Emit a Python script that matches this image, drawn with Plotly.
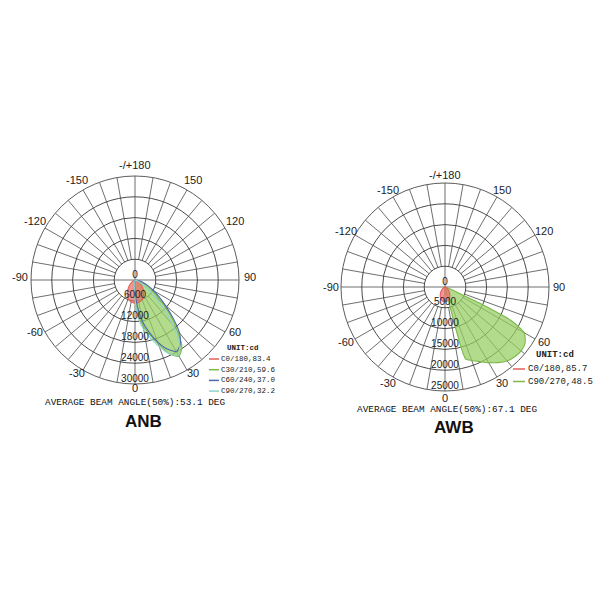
import math
import plotly.graph_objects as go

# ---------------- data ----------------
# ANB (left) intensity distribution, cd, gamma in degrees (0 = down, + = right)
anb_gamma = [-90, -80, -70, -60, -50, -40, -30, -20, -10, -5, 0, 5, 10, 15, 20, 25, 30, 35, 40, 45, 50, 55, 60, 65, 70, 80, 90]
anb_c0 = [0, 100, 300, 900, 1800, 3000, 4500, 5800, 6400, 6550, 6600, 6600, 6500, 6300, 6000, 5500, 5000, 4400, 3800, 3100, 2500, 1900, 1400, 1000, 600, 200, 0]
anb_c30 = [0, 0, 0, 0, 0, 100, 150, 200, 300, 800, 5000, 10000, 13500, 16300, 19500, 23500, 25400, 23600, 19000, 14500, 10500, 7200, 5000, 3500, 2500, 800, 0]
anb_c60 = [0, 0, 0, 0, 0, 100, 150, 200, 300, 800, 3000, 7500, 12000, 15500, 19000, 22000, 23800, 22800, 20000, 15500, 11500, 8500, 6200, 4500, 3000, 1000, 200]
anb_c90 = [0, 0, 0, 0, 0, 100, 150, 200, 300, 900, 5500, 11000, 14500, 17300, 20500, 23500, 25000, 22500, 17000, 11500, 7000, 4500, 2500, 1500, 800, 200, 0]

# AWB (right)
awb_gamma = [-90, -80, -70, -60, -50, -40, -30, -20, -10, 0, 10, 14, 16, 20, 25, 30, 35, 40, 45, 50, 55, 60, 63, 65, 67, 70, 80, 90]
awb_c0 = [0, 50, 150, 400, 900, 1600, 2300, 3000, 3400, 3500, 3400, 3300, 3200, 3000, 2700, 2300, 2000, 1600, 1250, 900, 650, 400, 300, 250, 200, 150, 50, 0]
awb_c90 = [0, 0, 0, 0, 0, 0, 50, 100, 150, 200, 400, 1500, 18000, 18800, 19800, 21000, 22200, 23200, 23700, 23900, 23500, 22000, 18000, 9000, 2500, 1000, 300, 100]

anb_names = ["C0/180,83.4", "C30/210,59.6", "C60/240,37.0", "C90/270,32.2"]
awb_names = ["C0/180,85.7", "C90/270,48.5"]

anb_rticks = [0, 6000, 12000, 18000, 24000, 30000]
awb_rticks = [0, 5000, 10000, 15000, 20000, 25000]

ang_tickvals = [0, 30, 60, 90, 120, 150, 180, 210, 240, 270, 300, 330]
ang_ticktext = ["0", "30", "60", "90", "120", "150", "-/+180", "-150", "-120", "-90", "-60", "-30"]

anb_beam = "AVERAGE BEAM ANGLE(50%):53.1 DEG"
awb_beam = "AVERAGE BEAM ANGLE(50%):67.1 DEG"

# ---------------- styles ----------------
GRID = "#4a4a4a"
RED_L, RED_F = "#e0605a", "rgba(238,105,100,0.70)"
GRN_L, GRN_F = "#7cb84a", "rgba(150,205,95,0.72)"
BLUE_L = "#4a6aae"
TEAL_L = "#8ed3cb"
W, H = 600, 600

annos = []
shapes = []


def px(x, y):
    return x / W, 1 - y / H


def closed(gamma, vals):
    th = [gamma[0]] + list(gamma) + [gamma[-1]]
    r = [0] + list(vals) + [0]
    return th, r


def spokes(rticks):
    th, r = [], []
    for a in range(0, 360, 10):
        r0 = 0 if a % 90 == 0 else rticks[1]
        th += [a, a, None]
        r += [r0, rticks[-1], None]
    return th, r


fig = go.Figure()


def add_polar(sub, rticks, series, cx, cy, rad, lab_rx, lab_ry, lab_dy):
    th, r = spokes(rticks)
    fig.add_trace(go.Scatterpolar(theta=th, r=r, mode="lines", subplot=sub,
                                  line=dict(color=GRID, width=0.8), hoverinfo="skip", showlegend=False))
    for gamma, vals, lc, fc, name in series:
        t, rr = closed(gamma, vals)
        fig.add_trace(go.Scatterpolar(theta=t, r=rr, mode="lines", subplot=sub, name=name,
                                      fill="toself" if fc else None, fillcolor=fc,
                                      line=dict(color=lc, width=1.1, shape="spline", smoothing=0.6),
                                      showlegend=False))
    fig.add_trace(go.Scatterpolar(theta=[0] * len(rticks), r=rticks, mode="text", subplot=sub,
                                  text=[str(v) for v in rticks], textposition="top center",
                                  textfont=dict(family="Liberation Sans", size=10, color="#222"),
                                  hoverinfo="skip", showlegend=False))
    fig.update_layout({sub: dict(
        domain=dict(x=[(cx - rad) / W, (cx + rad) / W], y=[1 - (cy + rad) / H, 1 - (cy - rad) / H]),
        bgcolor="white",
        angularaxis=dict(rotation=-90, direction="counterclockwise", showticklabels=False,
                         showgrid=False, showline=True, linecolor=GRID, linewidth=0.9, ticks=""),
        radialaxis=dict(range=[0, rticks[-1]], tickmode="array", tickvals=rticks[1:],
                        showticklabels=False, ticks="", showline=False,
                        gridcolor=GRID, gridwidth=0.8),
    )})
    # angular labels (gamma direction: 0 down, 90 right)
    for v, t in zip(ang_tickvals, ang_ticktext):
        a = math.radians(v)
        x = cx + lab_rx * math.sin(a)
        y = cy + lab_ry * math.cos(a) + lab_dy
        ax, ay = px(x, y)
        annos.append(dict(x=ax, y=ay, text=t, showarrow=False, xanchor="center", yanchor="middle",
                          font=dict(family="Liberation Sans", size=11, color="#222")))


add_polar("polar", anb_rticks, [
    (anb_gamma, anb_c30, GRN_L, GRN_F, anb_names[1]),
    (anb_gamma, anb_c0, RED_L, RED_F, anb_names[0]),
    (anb_gamma, anb_c60, BLUE_L, None, anb_names[2]),
    (anb_gamma, anb_c90, TEAL_L, None, anb_names[3]),
], 135, 280, 104, 115, 111.5, -3.5)

add_polar("polar2", awb_rticks, [
    (awb_gamma, awb_c90, GRN_L, GRN_F, awb_names[1]),
    (awb_gamma, awb_c0, RED_L, RED_F, awb_names[0]),
], 445, 287, 104, 114, 111.5, -0.5)


def legend(x_line, x_text, y_unit, x_unit, y0, dy, names, colors, size):
    ux, uy = px(x_unit, y_unit)
    annos.append(dict(x=ux, y=uy, text="<b>UNIT:cd</b>", showarrow=False, xanchor="center", yanchor="middle",
                      font=dict(family="Liberation Mono", size=size, color="#222")))
    for i, (n, c) in enumerate(zip(names, colors)):
        y = y0 + i * dy
        a, b = px(x_line[0], y)
        c2, _ = px(x_line[1], y)
        shapes.append(dict(type="line", xref="paper", yref="paper", x0=a, x1=c2, y0=b, y1=b,
                           line=dict(color=c, width=1.5)))
        tx, ty = px(x_text, y)
        annos.append(dict(x=tx, y=ty, text=n, showarrow=False, xanchor="left", yanchor="middle",
                          font=dict(family="Liberation Mono", size=size, color="#222")))


legend((209, 219), 219, 348, 243, 359, 10.7, anb_names, [RED_L, GRN_L, BLUE_L, TEAL_L], 7.5)
legend((513, 525), 526, 355, 555, 369, 12.5, awb_names, [RED_L, GRN_L], 9)

for txt, x, y in [(anb_beam, 135, 402), (awb_beam, 447, 409)]:
    ax, ay = px(x, y)
    annos.append(dict(x=ax, y=ay, text=txt, showarrow=False, xanchor="center", yanchor="middle",
                      font=dict(family="Liberation Mono", size=9.4, color="#111")))
for txt, x, y in [("ANB", 143, 421), ("AWB", 454, 427)]:
    ax, ay = px(x, y)
    annos.append(dict(x=ax, y=ay, text="<b>" + txt + "</b>", showarrow=False, xanchor="center", yanchor="middle",
                      font=dict(family="Liberation Sans", size=17, color="#111")))

fig.update_layout(width=W, height=H, margin=dict(l=0, r=0, t=0, b=0), paper_bgcolor="white",
                  showlegend=False, annotations=annos, shapes=shapes)
fig.write_html("out.html", config={"displayModeBar": False},
               post_script="document.body.style.margin='0';")
